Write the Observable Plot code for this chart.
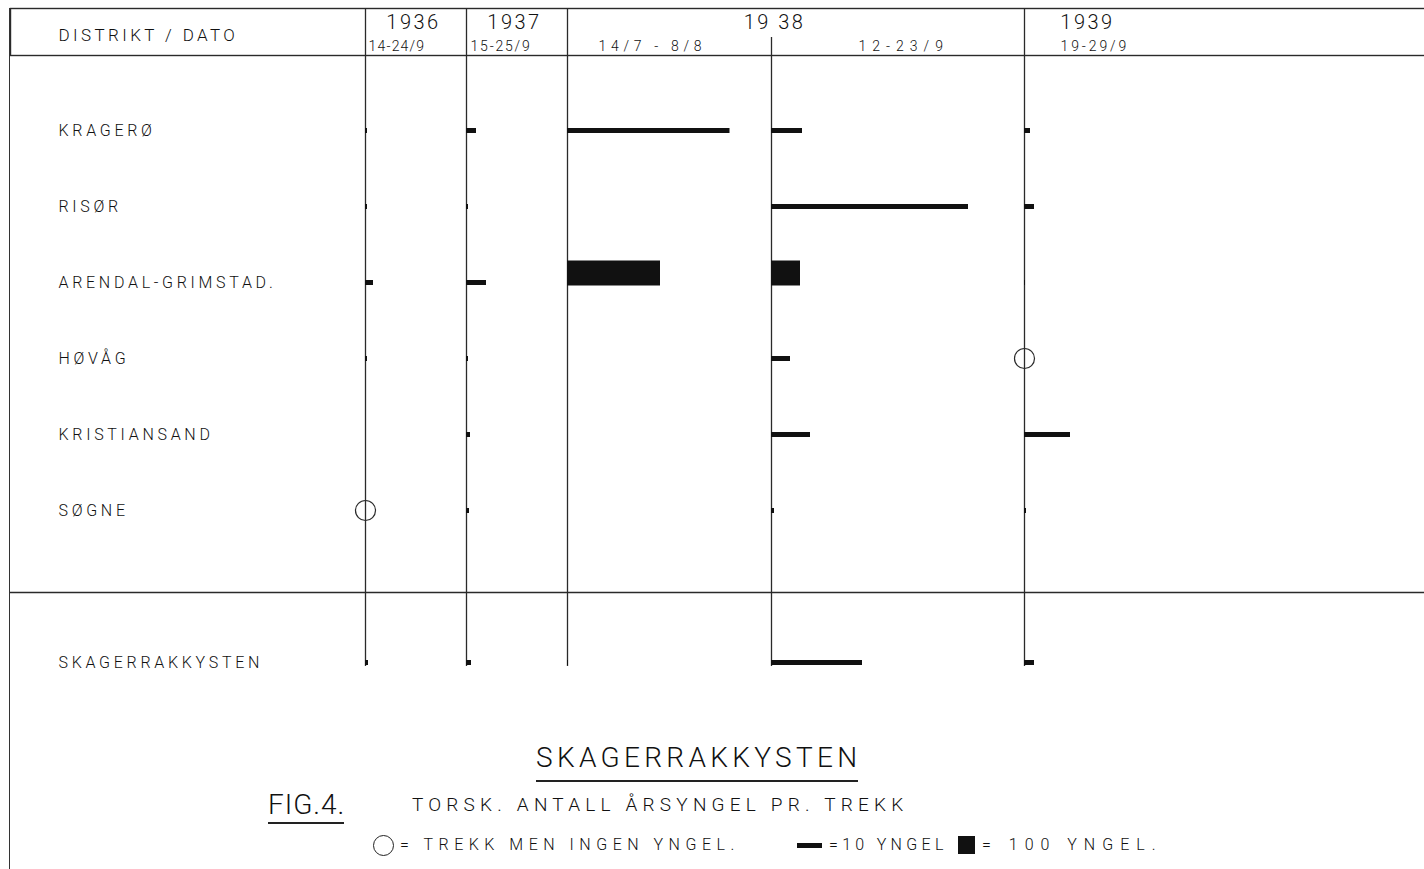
<!DOCTYPE html>
<html>
<head>
<meta charset="utf-8">
<script src="https://cdn.jsdelivr.net/npm/d3@7"></script>
<script src="https://cdn.jsdelivr.net/npm/@observablehq/plot@0.6"></script>
<style>
  body { margin:0; background:#fff; width:1424px; height:869px; position:relative; overflow:hidden;
         font-family: Roboto, "DejaVu Sans", sans-serif; color:#111; }
  #chart svg { display:block; }
  .cap { position:absolute; white-space:nowrap; font-weight:300; line-height:1; color:#111; }
  .line { position:absolute; background:#222; }
</style>
</head>
<body>
<div id="chart"></div>
<div class="line" style="left:9px; top:8px; width:1.4px; height:861px; background:#333"></div>

<div class="cap" id="title" style="left:536px; top:744px; font-size:28px; letter-spacing:4.3px">SKAGERRAKKYSTEN</div>
<div class="line" style="left:536px; top:780px; width:322px; height:1.6px"></div>

<div class="cap" id="fig" style="left:268px; top:791px; font-size:28px; letter-spacing:1px">FIG.4.</div>
<div class="line" style="left:268px; top:822px; width:76px; height:1.6px"></div>

<div class="cap" id="subtitle" style="left:412px; top:795px; font-size:19px; letter-spacing:5.2px">TORSK. ANTALL ÅRSYNGEL PR. TREKK</div>

<div style="position:absolute; left:373px; top:835px; width:19px; height:19px; border:1.3px solid #222; border-radius:50%"></div>
<div class="cap" style="left:400px; top:837px; font-size:16px; letter-spacing:5.5px">= TREKK MEN INGEN YNGEL.</div>
<div class="line" style="left:797px; top:843px; width:25px; height:5px; background:#111"></div>
<div class="cap" style="left:829px; top:837px; font-size:16px; letter-spacing:4.3px">=10 YNGEL</div>
<div class="line" style="left:958px; top:836px; width:17px; height:18px; background:#111"></div>
<div class="cap" style="left:982px; top:837px; font-size:16px; letter-spacing:7px">= 100 YNGEL.</div>

<script>
// ---------------- DATA ----------------
const districts = ["KRAGERØ", "RISØR", "ARENDAL-GRIMSTAD.", "HØVÅG", "KRISTIANSAND", "SØGNE"];
const totalLabel = "SKAGERRAKKYSTEN";
const headerLabel = "DISTRIKT / DATO";
const periods = ["1936", "1937", "1938a", "1938b", "1939"];
const yearLabels = ["1936", "1937", "19 38", "1939"];
const yearPeriods = ["1936", "1937", "1938b", "1939"];
const dateLabels = ["14-24/9", "15-25/9", "14/7 - 8/8", "12-23/9", "19-29/9"];

// årsyngel pr. trekk per period (null = no haul shown, 0 = haul without fry)
const kragero      = [0.8, 4,   65,   12.4, 2.4];
const risor        = [0.8, 0.8, null, 78.8, 4];
const arendal      = [3.2, 8,   372,  116,  0.4];
const hovag        = [0.8, 0.8, null, 7.6,  0];
const kristiansand = [null, 1.6, null, 15.6, 18.4];
const sogne        = [0,   1.2, null, 1.2,  0.8];
const skagerrak    = [1.2, 2,   0.4,  36.4, 4];

// ---------------- LAYOUT ----------------
const W = 1424, H = 700, ML = 10, MT = 8, MB = 34;
const PX = 2.5;                       // pixels per yngel on thin bars (10 yngel = 25 px)
const xMax = (W - ML) / PX;
const colStart = {"1936": 142, "1937": 182.4, "1938a": 222.8, "1938b": 304.4, "1939": 405.6};
const yearOffsetPx = [48, 48, 3, 63];
const dateOffsetPx = [3, 4, 31, 87, 36];
const dateSpacing = ["1.2px", "1.8px", "4.7px", "6px", "2.9px"];
const THICK = 100, THICK_FACTOR = 10;
const spacer = " ";

const rowNames = [...districts, totalLabel];
const rows = [...districts, spacer, totalLabel];
const series = [kragero, risor, arendal, hovag, kristiansand, sogne, skagerrak];
const records = rowNames.flatMap((r, i) => periods.map((p, j) => ({row: r, period: p, value: series[i][j]})))
  .filter(d => d.value != null);
const thin = records.filter(d => d.value > 0 && d.value < THICK);
const thick = records.filter(d => d.value >= THICK);
const none = records.filter(d => d.value === 0);

const ink = "#111", lineInk = "#2a2a2a";

const chart = Plot.plot({
  width: W, height: H,
  marginLeft: ML, marginRight: 0, marginTop: MT, marginBottom: MB,
  x: {domain: [0, xMax], axis: null},
  y: {type: "point", domain: rows, range: [129, 662], padding: 0, axis: null},
  style: {fontFamily: "Roboto, 'DejaVu Sans', sans-serif", color: ink, background: "#fff", overflow: "visible"},
  marks: [
    Plot.frame({stroke: lineInk, strokeWidth: 1.4, insetBottom: H - MB - MT - 47, insetRight: -6}),
    Plot.ruleX(periods.filter(p => p !== "1938b"), {x: p => colStart[p], stroke: lineInk, strokeWidth: 1.3}),
    Plot.ruleX(["1938b"], {x: p => colStart[p], stroke: lineInk, strokeWidth: 1.3, insetTop: 29}),
    Plot.ruleY([spacer], {y: d => d, dy: 6, stroke: lineInk, strokeWidth: 1.3}),
    Plot.ruleY(thin, {y: "row", x1: d => colStart[d.period], x2: d => colStart[d.period] + d.value, stroke: ink, strokeWidth: 5}),
    Plot.ruleY(thick, {y: "row", x1: d => colStart[d.period], x2: d => colStart[d.period] + d.value / THICK_FACTOR, stroke: ink, strokeWidth: 25, dy: -9.5}),
    Plot.dot(none, {x: d => colStart[d.period], y: "row", r: 10, stroke: lineInk, strokeWidth: 1.2, fill: "none"}),
    Plot.text(rowNames, {y: d => d, frameAnchor: "left", textAnchor: "start", lineAnchor: "middle", dx: 48, fontSize: 16, fontWeight: 300, fill: ink}),
    Plot.text([headerLabel], {frameAnchor: "top-left", textAnchor: "start", lineAnchor: "middle", dx: 48, dy: 27, fontSize: 17, fontWeight: 300, fill: ink}),
    Plot.text(yearLabels, {x: (d, i) => colStart[yearPeriods[i]] + yearOffsetPx[i] / PX, frameAnchor: "top", lineAnchor: "middle", dy: 14, fontSize: 20, fontWeight: 300, fill: ink}),
    Plot.text(dateLabels, {x: (d, i) => colStart[periods[i]] + dateOffsetPx[i] / PX, frameAnchor: "top", textAnchor: "start", lineAnchor: "middle", dy: 38, fontSize: 14, fontWeight: 300, fill: ink})
  ]
});

// letter spacing imitating the hand lettering
const spacing = new Map([
  ...rowNames.map(n => [n, "3.7px"]),
  [headerLabel, "3.4px"],
  ...yearLabels.map(n => [n, "2.5px"]),
  ...dateLabels.map((n, i) => [n, dateSpacing[i]])
]);
chart.querySelectorAll("text").forEach(t => {
  const s = spacing.get(t.textContent);
  if (s) t.style.letterSpacing = s;
});
document.getElementById("chart").appendChild(chart);
</script>
</body>
</html>
